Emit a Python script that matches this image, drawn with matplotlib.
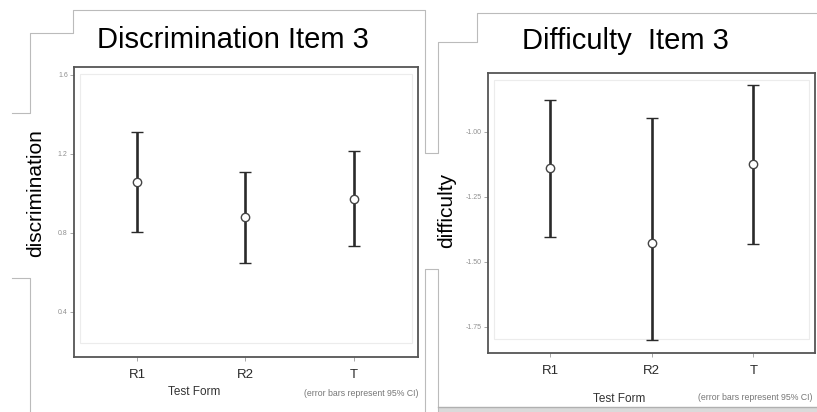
import numpy as np
import matplotlib.pyplot as plt
from matplotlib.lines import Line2D
from matplotlib.patches import Rectangle

plt.rcParams["font.family"] = ["Liberation Sans", "DejaVu Sans"]

W, H = 817, 412

forms = ["R1", "R2", "T"]

# discrimination, item 3 (estimate with 95% CI)
disc_est = [1.055, 0.879, 0.971]
disc_lo = [0.804, 0.647, 0.731]
disc_hi = [1.308, 1.107, 1.215]
disc_ticks = [0.4, 0.8, 1.2, 1.6]

# difficulty, item 3
diff_est = [-1.141, -1.429, -1.125]
diff_lo = [-1.404, -1.801, -1.433]
diff_hi = [-0.878, -0.949, -0.820]
diff_ticks = [-1.75, -1.50, -1.25, -1.00]


def px(x, y):
    return x / W, 1 - y / H


def draw_panel(ax, est, lo, hi, ticks, fmt, ylim, xlim):
    x = np.arange(1, len(forms) + 1)
    est = np.asarray(est)
    yerr = [est - np.asarray(lo), np.asarray(hi) - est]
    ax.errorbar(
        x, est, yerr=yerr, fmt="o", color="#2a2a2a", ecolor="#2a2a2a",
        elinewidth=1.9, capsize=4.5, capthick=1.9,
        markersize=6, markerfacecolor="white", markeredgecolor="#444444",
        markeredgewidth=1.0, zorder=3,
    )
    ax.set_xlim(*xlim)
    ax.set_ylim(*ylim)
    ax.set_xticks(x)
    ax.set_xticklabels(forms, fontsize=9.5, color="#2a2a2a")
    ax.set_yticks(ticks)
    ax.set_yticklabels([fmt.format(t) for t in ticks], fontsize=5, color="#8f8f8f")
    ax.tick_params(axis="y", length=3, width=0.6, color="#999999", pad=1.5)
    ax.tick_params(axis="x", length=3, width=0.6, color="#999999", pad=6)
    for s in ax.spines.values():
        s.set_color("#555555")
        s.set_linewidth(1.3)
    # faint inner panel border
    ax.add_patch(Rectangle((0.018, 0.05), 0.964, 0.925, transform=ax.transAxes,
                           fill=False, edgecolor="#ececec", linewidth=0.8, zorder=0))


fig = plt.figure(figsize=(W / 100, H / 100), dpi=100)

ax1 = fig.add_axes([74 / W, 1 - 357 / H, 344 / W, 290 / H])
draw_panel(ax1, disc_est, disc_lo, disc_hi, disc_ticks, "{:.1f}",
           (0.17, 1.64), (0.42, 3.59))

ax2 = fig.add_axes([488 / W, 1 - 353 / H, 327 / W, 280 / H])
draw_panel(ax2, diff_est, diff_lo, diff_hi, diff_ticks, "{:.2f}",
           (-1.851, -0.774), (0.39, 3.607))

# titles and labels
fig.text(*px(233, 40), "Discrimination Item 3", fontsize=21, ha="center", va="center")
fig.text(*px(625, 41), "Difficulty  Item 3", fontsize=21, ha="center", va="center")
fig.text(*px(36, 193), "discrimination", fontsize=15, rotation=90, ha="center", va="center")
fig.text(*px(447, 210), "difficulty", fontsize=15, rotation=90, ha="center", va="center")

fig.text(*px(194, 392), "Test Form", fontsize=8.5, ha="center", va="center", color="#333333")
fig.text(*px(418, 393), "(error bars represent 95% CI)", fontsize=6.3, ha="right",
         va="center", color="#777777")
fig.text(*px(619, 399), "Test Form", fontsize=8.5, ha="center", va="center", color="#333333")
fig.text(*px(813, 397), "(error bars represent 95% CI)", fontsize=6.3, ha="right",
         va="center", color="#777777")

# screenshot panel outlines
outlines = [
    [(30, 412), (30, 278), (12, 278)],
    [(12, 113), (30, 113), (30, 33), (73, 33), (73, 10), (425, 10), (425, 153),
     (438, 153), (438, 42), (477, 42), (477, 13), (817, 13)],
    [(425, 412), (425, 269), (438, 269), (438, 412)],
]
for poly in outlines:
    xs = [p[0] / W for p in poly]
    ys = [1 - p[1] / H for p in poly]
    fig.add_artist(Line2D(xs, ys, color="#bbbbbb", linewidth=0.8))

fig.add_artist(Rectangle(px(438, 412), (817 - 438) / W, 5 / H, facecolor="#dadada",
                         edgecolor="none"))
fig.add_artist(Line2D([438 / W, 1], [1 - 407 / H] * 2, color="#b0b0b0", linewidth=1.0))

fig.savefig("out.png", dpi=100)
